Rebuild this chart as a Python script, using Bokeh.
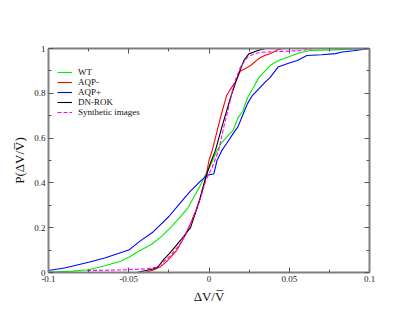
from bokeh.plotting import figure
from bokeh.models import (Range1d, LinearAxis, FixedTicker, PrintfTickFormatter,
                          Legend, LegendItem)
from bokeh.embed import file_html
from bokeh.resources import INLINE

# ---- data ----
wt_x = [-0.1, -0.085, -0.075, -0.065, -0.055, -0.05, -0.043, -0.036, -0.03, -0.024,
        -0.018, -0.013, -0.0095, -0.006, -0.003, 0.001, 0.005, 0.008, 0.011, 0.015,
        0.018, 0.021, 0.024, 0.028, 0.031, 0.035, 0.038, 0.043, 0.049, 0.056, 0.063,
        0.078, 0.09, 0.1]
wt_y = [0.002, 0.006, 0.012, 0.03, 0.05, 0.068, 0.098, 0.125, 0.158, 0.2,
        0.247, 0.29, 0.336, 0.38, 0.425, 0.48, 0.545, 0.58, 0.604, 0.634,
        0.69, 0.72, 0.78, 0.83, 0.87, 0.9, 0.924, 0.945, 0.961, 0.98, 0.991,
        0.994, 0.997, 1.0]

aqpm_x = [-0.04, -0.035, -0.03, -0.027, -0.024, -0.02, -0.0178, -0.0145, -0.0115, -0.008,
          -0.0053, -0.002, 0.0, 0.002, 0.005, 0.0072, 0.009, 0.011, 0.0135, 0.0165,
          0.0196, 0.0225, 0.0259, 0.031, 0.035, 0.038, 0.043, 0.046]
aqpm_y = [0.0, 0.01, 0.027, 0.045, 0.068, 0.1, 0.128, 0.17, 0.218, 0.28,
          0.336, 0.425, 0.5, 0.545, 0.63, 0.693, 0.74, 0.79, 0.82, 0.85,
          0.9, 0.91, 0.924, 0.955, 0.97, 0.977, 0.995, 1.0]

aqpp_x = [-0.1, -0.09, -0.075, -0.065, -0.05, -0.043, -0.035, -0.03, -0.025, -0.018,
          -0.012, -0.005, -0.001, 0.003, 0.005, 0.008, 0.011, 0.015, 0.018, 0.022,
          0.024, 0.027, 0.031, 0.035, 0.038, 0.043, 0.05, 0.055, 0.061, 0.07,
          0.079, 0.082, 0.09, 0.1]
aqpp_y = [0.009, 0.02, 0.046, 0.065, 0.10, 0.14, 0.18, 0.215, 0.25, 0.31,
          0.36, 0.41, 0.435, 0.44, 0.50, 0.545, 0.576, 0.62, 0.65, 0.72,
          0.754, 0.79, 0.82, 0.85, 0.87, 0.917, 0.935, 0.946, 0.969, 0.972,
          0.977, 0.983, 0.99, 1.0]

dnrok_x = [-0.045, -0.04, -0.035, -0.032, -0.028, -0.024, -0.0178, -0.0115, -0.0064, -0.002,
           0.001, 0.004, 0.008, 0.0134, 0.0176, 0.0217, 0.0248, 0.03, 0.035]
dnrok_y = [0.0, 0.008, 0.016, 0.024, 0.06, 0.09, 0.143, 0.2, 0.31, 0.425,
           0.49, 0.545, 0.649, 0.78, 0.87, 0.946, 0.976, 0.99, 1.0]

syn_x = [-0.076, -0.065, -0.051, -0.04, -0.032, -0.028, -0.024, -0.0178, -0.0115, -0.0064,
         -0.002, 0.002, 0.006, 0.0092, 0.0123, 0.0155, 0.0196, 0.0238, 0.028, 0.032,
         0.045, 0.057, 0.065]
syn_y = [0.009, 0.01, 0.012, 0.016, 0.024, 0.05, 0.076, 0.128, 0.218, 0.307,
         0.41, 0.47, 0.545, 0.649, 0.738, 0.842, 0.917, 0.96, 0.976, 0.983,
         0.987, 0.99, 1.0]

series_names = ["WT", "AQP-", "AQP+", "DN-ROK", "Synthetic images"]

x_major = [-0.1, -0.05, 0.0, 0.05, 0.1]
x_minor = [-0.075, -0.025, 0.025, 0.075]
y_major = [0.0, 0.2, 0.4, 0.6, 0.8, 1.0]
y_minor = [0.1, 0.3, 0.5, 0.7, 0.9]

SERIF = "Liberation Serif"
AX_COL = "#808080"
TICK_COL = "#555555"

p = figure(width=403, height=308, output_backend="svg", toolbar_location=None,
           x_range=Range1d(-0.1, 0.1), y_range=Range1d(0, 1),
           min_border_left=48, min_border_top=48, min_border_right=34, min_border_bottom=36,
           x_axis_location=None, y_axis_location=None)
p.grid.visible = False
p.outline_line_color = None
p.background_fill_color = "white"
p.border_fill_color = "white"


def make_axis(ticks, minor, labels=True, label_text=None):
    ax = LinearAxis(ticker=FixedTicker(ticks=ticks, minor_ticks=minor),
                    formatter=PrintfTickFormatter(format="%g"))
    ax.axis_line_color = AX_COL
    ax.axis_line_width = 2
    ax.major_tick_line_color = TICK_COL
    ax.minor_tick_line_color = TICK_COL
    ax.major_tick_in = 5
    ax.major_tick_out = 0
    ax.minor_tick_in = 3
    ax.minor_tick_out = 0
    ax.major_label_text_font = SERIF
    ax.major_label_text_font_size = "9px"
    if labels:
        ax.major_label_text_color = "#222222"
        ax.major_label_standoff = 3
        ax.axis_label = label_text
        ax.axis_label_text_font = SERIF
        ax.axis_label_text_font_size = "13px"
        ax.axis_label_text_font_style = "normal"
        ax.axis_label_text_color = "#111111"
        ax.axis_label_standoff = 4
    else:
        ax.major_label_text_color = None
        ax.major_label_standoff = 0
    return ax


p.add_layout(make_axis(x_major, x_minor, True, "\u0394V/V\u0305"), "below")
p.add_layout(make_axis(y_major, y_minor, True, "P(\u0394V/V\u0305)"), "left")
p.add_layout(make_axis(x_major, x_minor, False), "above")
p.add_layout(make_axis(y_major, y_minor, False), "right")

r_wt = p.line(wt_x, wt_y, line_color="#00ee00", line_width=1.1)
r_m = p.line(aqpm_x, aqpm_y, line_color="#ff0000", line_width=1.1)
r_p = p.line(aqpp_x, aqpp_y, line_color="#0000ff", line_width=1.1)
r_dn = p.line(dnrok_x, dnrok_y, line_color="#000000", line_width=1.1)
r_syn = p.line(syn_x, syn_y, line_color="#ff00ff", line_width=1.1, line_dash="4 2")

legend = Legend(items=[LegendItem(label=n, renderers=[r]) for n, r in
                       zip(series_names, [r_wt, r_m, r_p, r_dn, r_syn])],
                location=(9, 155))
legend.border_line_color = None
legend.background_fill_alpha = 0
legend.label_text_font = SERIF
legend.label_text_font_size = "9px"
legend.label_text_color = "#111111"
legend.glyph_width = 15
legend.glyph_height = 10
legend.label_height = 10
legend.label_standoff = 6
legend.spacing = 0
legend.padding = 0
legend.margin = 0
p.add_layout(legend, "center")

open("out.html", "w").write(file_html(p, INLINE))
